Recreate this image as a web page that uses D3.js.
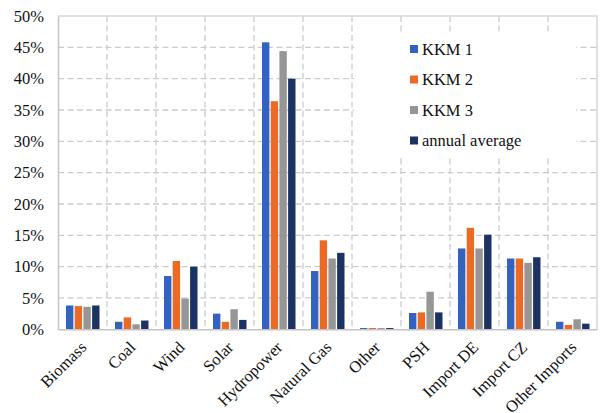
<!DOCTYPE html>
<html>
<head>
<meta charset="utf-8">
<script src="https://cdn.jsdelivr.net/npm/d3@7"></script>
<style>
  html, body { margin: 0; padding: 0; background: #fff; }
  svg { display: block; }
  text { font-family: "Liberation Serif", "Times New Roman", serif; fill: #111; }
</style>
</head>
<body>
<svg id="chart" width="601" height="413"></svg>
<script>
// Share of electricity sources (fraction of total) per scenario
const categories = ["Biomass", "Coal", "Wind", "Solar", "Hydropower", "Natural Gas",
                    "Other", "PSH", "Import DE", "Import CZ", "Other Imports"];
const seriesNames = ["KKM 1", "KKM 2", "KKM 3", "annual average"];
const kkm1   = [0.038, 0.012, 0.085, 0.025, 0.458, 0.093, 0.002, 0.026, 0.129, 0.113, 0.012];
const kkm2   = [0.037, 0.019, 0.109, 0.012, 0.364, 0.142, 0.002, 0.027, 0.162, 0.113, 0.007];
const kkm3   = [0.036, 0.008, 0.049, 0.032, 0.444, 0.113, 0.002, 0.060, 0.129, 0.106, 0.016];
const annual = [0.038, 0.014, 0.100, 0.015, 0.400, 0.122, 0.002, 0.027, 0.151, 0.115, 0.009];
const yTicks = [0, 0.05, 0.10, 0.15, 0.20, 0.25, 0.30, 0.35, 0.40, 0.45, 0.50];
const colors = ["#3462c0", "#eb6a24", "#969696", "#1c3262"];

const seriesValues = [kkm1, kkm2, kkm3, annual];
const serif = "'Liberation Serif', 'Times New Roman', serif";

const svg = d3.select("#chart");
const plot = { left: 58, right: 597, top: 16, bottom: 329.3 };

const x0 = d3.scaleBand().domain(categories).range([plot.left, plot.right]).padding(0);
const x1 = d3.scaleBand().domain(seriesNames).range([8, 41.5]).paddingInner(0.15);
const y = d3.scaleLinear().domain([0, 0.5]).range([plot.bottom, plot.top]);

const gridColor = "#cccccc";

// horizontal dashed grid lines
svg.append("g")
  .selectAll("line")
  .data(yTicks.filter(t => t > 0 && t < 0.5))
  .join("line")
  .attr("x1", plot.left).attr("x2", plot.right)
  .attr("y1", d => y(d)).attr("y2", d => y(d))
  .attr("stroke", gridColor).attr("stroke-width", 1.3)
  .attr("stroke-dasharray", "6,3.5");

// vertical dashed grid lines at category boundaries
svg.append("g")
  .selectAll("line")
  .data(categories.slice(1))
  .join("line")
  .attr("x1", d => x0(d)).attr("x2", d => x0(d))
  .attr("y1", plot.top).attr("y2", plot.bottom)
  .attr("stroke", gridColor).attr("stroke-width", 1.3)
  .attr("stroke-dasharray", "6,3.5");

// top and right frame
svg.append("path")
  .attr("d", `M${plot.left},${plot.top}H${plot.right}V${plot.bottom}`)
  .attr("fill", "none").attr("stroke", "#d6d6d6").attr("stroke-width", 1.5);

// bars
const groups = svg.append("g")
  .selectAll("g")
  .data(categories)
  .join("g")
  .attr("transform", d => `translate(${x0(d)},0)`);

groups.selectAll("rect")
  .data((d, i) => seriesNames.map((s, j) => ({ s, v: seriesValues[j][i], j })))
  .join("rect")
  .attr("x", d => x1(d.s))
  .attr("width", x1.bandwidth())
  .attr("y", d => y(d.v))
  .attr("height", d => y(0) - y(d.v))
  .attr("fill", d => colors[d.j]);

// y axis
const yAxis = svg.append("g")
  .attr("transform", `translate(${plot.left},0)`)
  .attr("font-family", serif)
  .call(d3.axisLeft(y).tickValues(yTicks).tickFormat(d3.format(".0%")).tickSize(0).tickPadding(14));
yAxis.attr("font-family", serif);
yAxis.select(".domain").attr("stroke", "#c4c4c4").attr("stroke-width", 1.5);
yAxis.selectAll("text").style("font-size", "16.5px").attr("fill", "#111")
  .style("font-family", serif);

// x axis
const xAxis = svg.append("g")
  .attr("transform", `translate(0,${plot.bottom})`)
  .call(d3.axisBottom(x0).tickSize(0).tickFormat(""));
xAxis.select(".domain").attr("stroke", "#c4c4c4").attr("stroke-width", 1.5);

// rotated category labels
svg.append("g")
  .selectAll("text")
  .data(categories)
  .join("text")
  .attr("text-anchor", "end")
  .attr("transform", d => `translate(${x0(d) + x0.bandwidth() / 2 + 5},${plot.bottom + 19}) rotate(-45)`)
  .style("font-size", "16.5px")
  .style("font-family", serif)
  .text(d => d);

// legend
const legend = svg.append("g");
legend.append("rect")
  .attr("x", 354).attr("y", 32).attr("width", 222).attr("height", 126)
  .attr("fill", "#fff");
const items = legend.selectAll("g.item")
  .data(seriesNames)
  .join("g")
  .attr("class", "item")
  .attr("transform", (d, i) => `translate(410,${49 + i * 30.5})`);
items.append("rect")
  .attr("x", 0).attr("y", -4).attr("width", 8).attr("height", 8)
  .attr("fill", (d, i) => colors[i]);
items.append("text")
  .attr("x", 12).attr("y", 5.5)
  .style("font-size", "16.5px")
  .style("font-family", serif)
  .text(d => d);
</script>
</body>
</html>
